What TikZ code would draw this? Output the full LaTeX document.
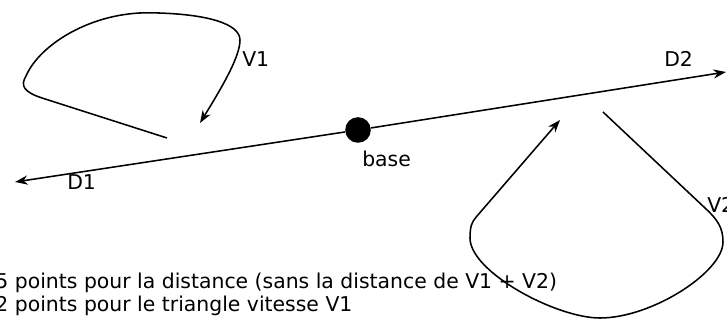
\documentclass[tikz,border=0pt]{standalone}
\usepackage{fontspec}
\setmainfont{DejaVu Sans}
\usetikzlibrary{arrows.meta}

\begin{document}
\begin{tikzpicture}[
  every node/.style={font=\fontsize{14.5}{16.4}\selectfont,inner sep=0pt},
  trackline/.style={line width=1.1pt,black},
  trackarrow/.style={trackline,-{Stealth[length=9pt,width=6.5pt]}},
]
  \useasboundingbox (0,0) rectangle (18.175,8);

  % Base and the two legs
  \node[circle,fill=black,minimum size=0.64cm] (base) at (8.95,4.75) {};
  \node[anchor=base west] (baselabel) at (9.05,3.825) {base};
  \coordinate (d1end) at (0.375,3.45);
  \coordinate (d2end) at (18.15,6.2);
  \draw[trackarrow] (base) -- (d1end);
  \draw[trackarrow] (base) -- (d2end);
  \node[anchor=base west] (d1label) at (1.675,3.25) {D1};
  \node[anchor=base west] (d2label) at (16.6,6.325) {D2};

  % Loop V1
  \draw[trackarrow] (4.175,4.55) -- (1.05,5.55)
    .. controls (0.6,5.7) and (0.5,5.85) .. (0.65,6.1)
    .. controls (1.0,6.9) and (2.3,7.7) .. (3.75,7.68)
    .. controls (5.2,7.66) and (6.0,7.4) .. (6.0,7.0)
    .. controls (6.0,6.6) and (5.6,5.9) .. (5.0,4.925);
  \node[anchor=base west] (v1label) at (6.05,6.325) {V1};

  % Loop V2
  \draw[trackarrow] (15.075,5.2) -- (17.625,2.8)
    .. controls (17.95,2.5) and (18.075,2.3) .. (18.075,1.95)
    .. controls (18.075,1.2) and (16.3,0.05) .. (15.0,0.05)
    .. controls (13.9,0.05) and (11.75,1.2) .. (11.75,2.05)
    .. controls (11.75,2.35) and (11.8,2.45) .. (11.9,2.57)
    -- (14.0,5.0);
  \node[anchor=base west] (v2label) at (17.675,2.675) {V2};

  % Notes
  \node[anchor=base west,align=left] (notes) at (-0.12,0.2) {%
    5 points pour la distance (sans la distance de V1 + V2)\\
    2 points pour le triangle vitesse V1};
\end{tikzpicture}
\end{document}
